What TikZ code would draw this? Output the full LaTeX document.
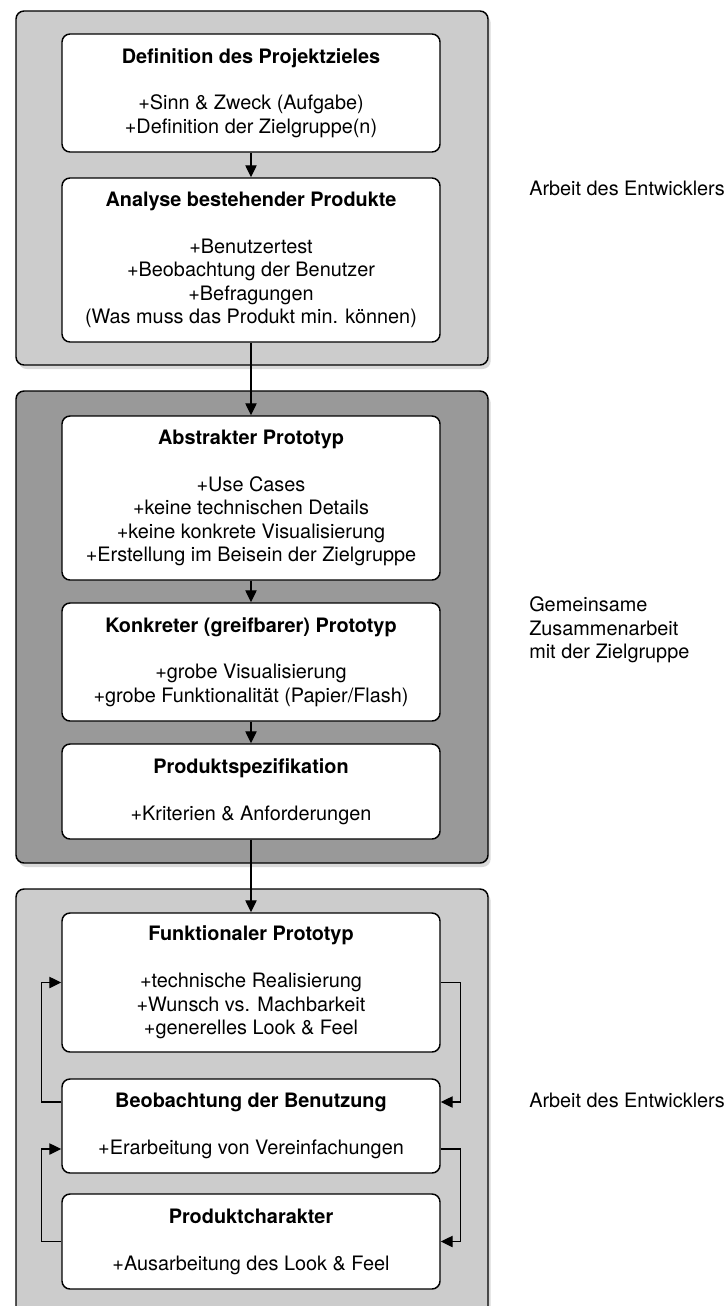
\documentclass[tikz,border=0pt]{standalone}
\usepackage{fontspec}
\setmainfont{TeX Gyre Heros}
\usetikzlibrary{arrows.meta,shadows,calc}
\definecolor{grpLight}{HTML}{CCCCCC}
\definecolor{grpDark}{HTML}{999999}
\begin{document}
\begin{tikzpicture}[x=0.75pt,y=-0.75pt,
  group/.style={draw=black, line width=1.1pt, rounded corners=6pt,
    drop shadow={shadow xshift=2pt, shadow yshift=-3pt, opacity=0.3}},
  box/.style={draw=black, fill=white, line width=1.1pt, rounded corners=6pt,
    minimum width=283.5pt, align=center, inner sep=0pt,
    font=\fontsize{14.9pt}{17.6pt}\selectfont},
  lbl/.style={anchor=west, align=left, inner sep=0pt,
    font=\fontsize{14.9pt}{17.6pt}\selectfont},
  arr/.style={line width=1pt, -{Triangle[length=9pt,width=8.5pt]}}]
\useasboundingbox (0,0) rectangle (727,1306);

% groups
\path[group, fill=grpLight] (16,11) rectangle (488,365);
\path[group, fill=grpDark] (16,391) rectangle (488,863);
\path[group, fill=grpLight] (16,889) rectangle (488,1316);

% boxes
\node[box, minimum height=88.5pt] (b1) at (251,93)
  {{\bfseries Definition des Projektzieles}\\[17.6pt]
   +Sinn \& Zweck (Aufgabe)\\+Definition der Zielgruppe(n)};
\node[box, minimum height=123pt] (b2) at (251,260)
  {{\bfseries Analyse bestehender Produkte}\\[17.6pt]
   +Benutzertest\\+Beobachtung der Benutzer\\+Befragungen\\(Was muss das Produkt min. können)};
\node[box, minimum height=123pt] (b3) at (251,498)
  {{\bfseries Abstrakter Prototyp}\\[17.6pt]
   +Use Cases\\+keine technischen Details\\+keine konkrete Visualisierung\\+Erstellung im Beisein der Zielgruppe};
\node[box, minimum height=88.5pt] (b4) at (251,662)
  {{\bfseries Konkreter (greifbarer) Prototyp}\\[17.6pt]
   +grobe Visualisierung\\+grobe Funktionalität (Papier/Flash)};
\node[box, minimum height=71.25pt] (b5) at (251,791.5)
  {{\bfseries Produktspezifikation}\\[17.6pt]
   +Kriterien \& Anforderungen};
\node[box, minimum height=104.25pt] (b6) at (251,982.5)
  {{\bfseries Funktionaler Prototyp}\\[17.6pt]
   +technische Realisierung\\+Wunsch vs. Machbarkeit\\+generelles Look \& Feel};
\node[box, minimum height=70.5pt] (b7) at (251,1126)
  {{\bfseries Beobachtung der Benutzung}\\[17.6pt]
   +Erarbeitung von Vereinfachungen};
\node[box, minimum height=71.25pt] (b8) at (251,1241.5)
  {{\bfseries Produktcharakter}\\[17.6pt]
   +Ausarbeitung des Look \& Feel};

% straight arrows
\draw[arr] (b1) -- (b2);
\draw[arr] (b2) -- (b3);
\draw[arr] (b3) -- (b4);
\draw[arr] (b4) -- (b5);
\draw[arr] (b5) -- (b6);

% feedback loops
\draw[arr] (b6.east) -- ++(20,0) |- ($(b7.east)+(0,-24)$);
\draw[arr] ($(b7.west)+(0,-24)$) -- ++(-20,0) |- (b6.west);
\draw[arr] ($(b7.east)+(0,23)$) -- ++(20,0) |- (b8.east);
\draw[arr] (b8.west) -- ++(-20,0) |- ($(b7.west)+(0,23)$);

% side labels
\node[lbl] (l1) at (529,188) {Arbeit des Entwicklers};
\node[lbl] (l2) at (529,630) {Gemeinsame\\Zusammenarbeit\\mit der Zielgruppe};
\node[lbl] (l3) at (529,1100) {Arbeit des Entwicklers};
\end{tikzpicture}
\end{document}
